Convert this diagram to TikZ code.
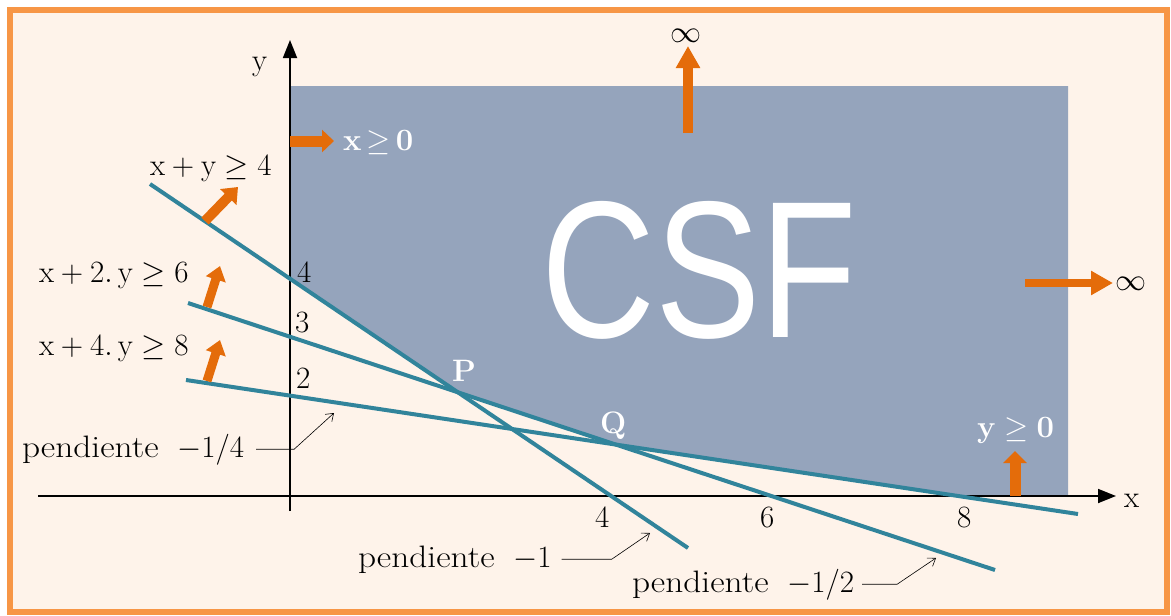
\RequirePackage{fix-cm}
\documentclass[tikz,border=0pt]{standalone}
\usepackage{fontspec}
\newfontfamily\csffont{Liberation Sans}
\usetikzlibrary{arrows.meta}
\definecolor{borderor}{HTML}{F79646}
\definecolor{arrowor}{HTML}{E46C0A}
\definecolor{cream}{HTML}{FEF3EA}
\definecolor{csfblue}{HTML}{95A4BC}
\definecolor{tealline}{HTML}{31849B}
\newcommand{\pendword}{\scalebox{1.14}[1]{pendiente}}
\begin{document}
\begin{tikzpicture}[x=1pt,y=-1pt,
  txt/.style={inner sep=0pt,outer sep=0pt,anchor=base west,font=\fontsize{31}{36}\selectfont},
  wtxt/.style={txt,text=white,font=\fontsize{31}{36}\selectfont\bfseries},
  cline/.style={draw=tealline,line width=4pt},
  axis/.style={draw=black,line width=1.8pt},
  ptr/.style={draw=black,line width=0.6pt,-{Straight Barb[length=7pt,width=10pt]}},
  oarr/.style={draw=arrowor,line width=10pt,-{Triangle[width=23pt,length=22pt]}},
  oarrs/.style={draw=arrowor,line width=11pt,-{Triangle[width=22pt,length=12pt]}}
]
\useasboundingbox (0,0) rectangle (1171,616);
\fill[white] (0,0) rectangle (1171,616);
\filldraw[fill=cream,draw=borderor,line width=5.5pt] (10,10) rectangle (1167,612);

% constraint line end points
\coordinate (a1) at (150,184); \coordinate (a2) at (688,548);
\coordinate (b1) at (188,303); \coordinate (b2) at (995,570);
\coordinate (c1) at (186,380); \coordinate (c2) at (1078,514);
\coordinate (O) at (290,496);
\coordinate (xs) at (38,496); \coordinate (xe) at (1116,496);
\coordinate (ys) at (290,511); \coordinate (ye) at (290,40);
\coordinate (P) at (intersection of a1--a2 and b1--b2);
\coordinate (Q) at (intersection of b1--b2 and c1--c2);
\coordinate (A0) at (intersection of a1--a2 and O--ye);
\coordinate (C0) at (intersection of c1--c2 and O--xe);

% feasible region
\fill[csfblue] (290,86) -- (1068,86) -- (1068,496) -- (C0) -- (Q) -- (P) -- (A0) -- cycle;
\node[inner sep=0pt,text=white,font=\fontsize{195}{200}\csffont] (csf) at (699,270) {\scalebox{0.81}[1]{CSF}};

% axes
\draw[axis,-{Triangle[width=14pt,length=18pt]}] (xs) -- (xe);
\draw[axis,-{Triangle[width=14pt,length=18pt]}] (ys) -- (ye);
\node[txt] (ylab) at (252,70) {y};
\node[txt] (xlab) at (1124,507) {x};

% ticks
\node[txt] (tx4) at (595,527) {4};
\node[txt] (tx6) at (760,527) {6};
\node[txt] (tx8) at (957,527) {8};
\node[txt] (ty4) at (297,282) {4};
\node[txt] (ty3) at (295,332) {3};
\node[txt] (ty2) at (296,388) {2};

% constraint lines
\draw[cline] (a1) -- (a2);
\draw[cline] (b1) -- (b2);
\draw[cline] (c1) -- (c2);

% labels
\node[txt] (la) at (150,175) {$\mathrm{x}+\mathrm{y}\geq 4$};
\node[txt] (lb) at (39,282) {$\mathrm{x}+2.\,\mathrm{y}\geq 6$};
\node[txt] (lc) at (39,355) {$\mathrm{x}+4.\,\mathrm{y}\geq 8$};
\node[wtxt] (lx0) at (343,150) {x\,$\geq$\,0};
\node[wtxt] (ly0) at (977,437) {y\;$\geq$\;0};
\node[wtxt] (lP) at (452,381) {P};
\node[wtxt] (lQ) at (600,433) {Q};
\node[inner sep=0pt,font=\fontsize{31}{36}\selectfont] (inf1) at (686,36) {$\infty$};
\node[inner sep=0pt,font=\fontsize{31}{36}\selectfont] (inf2) at (1131,284) {$\infty$};

% orange arrows
\coordinate (u1) at (688,133); \coordinate (u2) at (688,46);
\coordinate (r1) at (1025,283); \coordinate (r2) at (1113,283);
\coordinate (x01) at (290,141); \coordinate (x02) at (334,141);
\coordinate (y01) at (1015,496); \coordinate (y02) at (1015,451);
\coordinate (aa1) at (205,221); \coordinate (aa2) at (238,187);
\coordinate (ab1) at (207,307); \coordinate (ab2) at (220,266);
\coordinate (ac1) at (207,381); \coordinate (ac2) at (220,340);
\draw[oarr] (u1) -- (u2);
\draw[oarr,line width=8pt] (r1) -- (r2);
\draw[oarrs] (x01) -- (x02);
\draw[oarrs,-{Triangle[width=23pt,length=12pt]}] (y01) -- (y02);
\draw[oarrs,line width=10pt,-{Triangle[width=22pt,length=14pt]}] (aa1) -- (aa2);
\draw[oarrs,line width=9pt,-{Triangle[width=20pt,length=14pt]}] (ab1) -- (ab2);
\draw[oarrs,line width=9pt,-{Triangle[width=20pt,length=14pt]}] (ac1) -- (ac2);

% pendiente labels
\node[txt] (p14) at (22,457) {\pendword\ \ $-1/4$};
\node[txt] (p1) at (358,567) {\pendword\ \ $-1$};
\node[txt] (p12) at (632,592) {\pendword\ \ $-1/2$};
\coordinate (t14) at (334,413);
\coordinate (t1) at (650,533);
\coordinate (t12) at (936,558);
\draw[ptr,shorten <=12pt] (p14.east) -- ++(50,0) -- (t14);
\draw[ptr,shorten <=10pt] (p1.east) -- ++(60,0) -- (t1);
\draw[ptr,shorten <=8pt] (p12.east) -- ++(43,0) -- (t12);
\end{tikzpicture}
\end{document}
